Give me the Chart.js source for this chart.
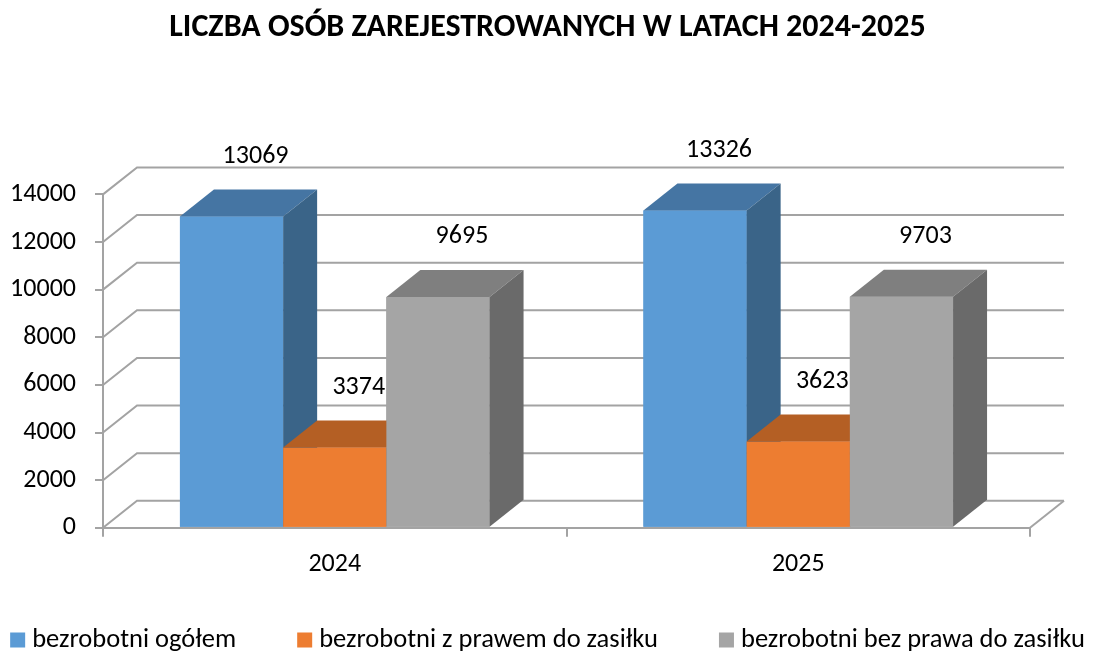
<!DOCTYPE html>
<html>
<head>
<meta charset="utf-8">
<script src="https://cdn.jsdelivr.net/npm/chart.js@4"></script>
<style>
  html, body { margin: 0; padding: 0; background: #fff; }
  #wrap { width: 1095px; height: 652px; position: relative; }
</style>
</head>
<body>
<div id="wrap"><canvas id="c" width="1095" height="652"></canvas></div>
<script>
const categories = ['2024', '2025'];
const seriesNames = ['bezrobotni ogółem', 'bezrobotni z prawem do zasiłku', 'bezrobotni bez prawa do zasiłku'];
const ogolem = [13069, 13326];
const zPrawem = [3374, 3623];
const bezPrawa = [9695, 9703];
const yTicks = [0, 2000, 4000, 6000, 8000, 10000, 12000, 14000];

const FONT = "Carlito, Calibri, Lato, 'Liberation Sans', sans-serif";
const frontColors = ['#5B9BD5', '#ED7D31', '#A5A5A5'];
const topColors = ['#4575A3', '#B45F24', '#7F7F7F'];
const sideColors = ['#3A6488', '#9E5220', '#6A6A6A'];
const DX = 34, DY = -27;
const GRID = '#a3a3a3';

const threeD = {
  id: 'threeD',
  beforeDatasetsDraw(chart) {
    const ctx = chart.ctx, y = chart.scales.y, a = chart.chartArea;
    ctx.save();
    ctx.strokeStyle = GRID;
    ctx.lineWidth = 2;
    y.ticks.forEach(t => {
      const py = y.getPixelForValue(t.value);
      ctx.beginPath();
      ctx.moveTo(a.left, py);
      ctx.lineTo(a.left + DX, py + DY);
      ctx.lineTo(a.right + DX, py + DY);
      ctx.stroke();
    });
    ctx.beginPath();
    ctx.moveTo(a.right, a.bottom);
    ctx.lineTo(a.right + DX, a.bottom + DY);
    ctx.stroke();
    ctx.restore();
  },
  afterDatasetsDraw(chart) {
    const ctx = chart.ctx;
    ctx.save();
    // redraw bars left-to-right so that faces overlap correctly
    chart.data.datasets.forEach((ds, i) => {
      chart.getDatasetMeta(i).data.forEach(bar => {
        const p = bar.getProps(['x', 'y', 'base', 'width'], true);
        const x0 = p.x - p.width / 2, x1 = p.x + p.width / 2;
        bar.draw(ctx);
        ctx.fillStyle = topColors[i];
        ctx.beginPath();
        ctx.moveTo(x0, p.y); ctx.lineTo(x1, p.y);
        ctx.lineTo(x1 + DX, p.y + DY); ctx.lineTo(x0 + DX, p.y + DY);
        ctx.closePath(); ctx.fill();
        ctx.fillStyle = sideColors[i];
        ctx.beginPath();
        ctx.moveTo(x1, p.y); ctx.lineTo(x1 + DX, p.y + DY);
        ctx.lineTo(x1 + DX, p.base + DY); ctx.lineTo(x1, p.base);
        ctx.closePath(); ctx.fill();
      });
    });
    // value labels
    ctx.font = '26px ' + FONT;
    ctx.fillStyle = '#000';
    ctx.textAlign = 'center';
    ctx.textBaseline = 'middle';
    chart.data.datasets.forEach((ds, i) => {
      chart.getDatasetMeta(i).data.forEach((bar, j) => {
        ctx.fillText(String(ds.data[j]), bar.x + 24, bar.y - 60);
      });
    });
    ctx.restore();
  },
  afterDraw(chart) {
    // legend row at the bottom
    const ctx = chart.ctx;
    const BOX = 15, TGAP = 7, GAP = 61, CY = 640;
    ctx.save();
    ctx.font = '26.5px ' + FONT;
    const ds = chart.data.datasets;
    const widths = ds.map(d => ctx.measureText(d.label).width);
    const total = widths.reduce((s, w) => s + BOX + TGAP + w, 0) + GAP * (ds.length - 1);
    let x = (chart.width - total) / 2;
    ctx.textBaseline = 'middle';
    ctx.textAlign = 'left';
    ds.forEach((d, i) => {
      ctx.fillStyle = d.backgroundColor;
      ctx.fillRect(x, CY - BOX / 2, BOX, BOX);
      ctx.fillStyle = '#000';
      ctx.fillText(d.label, x + BOX + TGAP, CY);
      x += BOX + TGAP + widths[i] + GAP;
    });
    ctx.restore();
  }
};

new Chart(document.getElementById('c'), {
  type: 'bar',
  data: {
    labels: categories,
    datasets: [
      { label: seriesNames[0], data: ogolem, backgroundColor: frontColors[0] },
      { label: seriesNames[1], data: zPrawem, backgroundColor: frontColors[1] },
      { label: seriesNames[2], data: bezPrawa, backgroundColor: frontColors[2] }
    ]
  },
  options: {
    responsive: false,
    animation: false,
    layout: { padding: { left: 0, right: 0, top: 0, bottom: 60 } },
    datasets: { bar: { barPercentage: 1, categoryPercentage: 0.668, borderWidth: 0 } },
    scales: {
      x: {
        grid: { drawOnChartArea: false, drawTicks: true, tickLength: 9, color: GRID, lineWidth: 2 },
        border: { color: GRID, width: 2 },
        ticks: { color: '#000', font: { family: FONT, size: 26 }, padding: 12 }
      },
      y: {
        min: 0, max: 14000,
        afterBuildTicks(scale) { scale.ticks = yTicks.map(v => ({ value: v })); },
        afterFit(scale) { scale.width = 103; },
        grid: { drawOnChartArea: false, drawTicks: true, tickLength: 8, color: GRID, lineWidth: 2 },
        border: { color: GRID, width: 2 },
        ticks: { color: '#000', font: { family: FONT, size: 26 }, padding: 19, callback: v => String(v) }
      },
      yRight: {
        type: 'linear', axis: 'y', position: 'right', display: true,
        grid: { display: false }, border: { display: false }, ticks: { display: false },
        afterFit(scale) { scale.width = 65; }
      }
    },
    plugins: {
      title: {
        display: true,
        text: 'LICZBA OSÓB ZAREJESTROWANYCH W LATACH 2024-2025',
        color: '#000',
        font: { family: FONT, size: 32, weight: 'bold' },
        padding: { top: 9, bottom: 147 }
      },
      legend: { display: false },
      tooltip: { enabled: false }
    }
  },
  plugins: [threeD]
});
</script>
</body>
</html>
